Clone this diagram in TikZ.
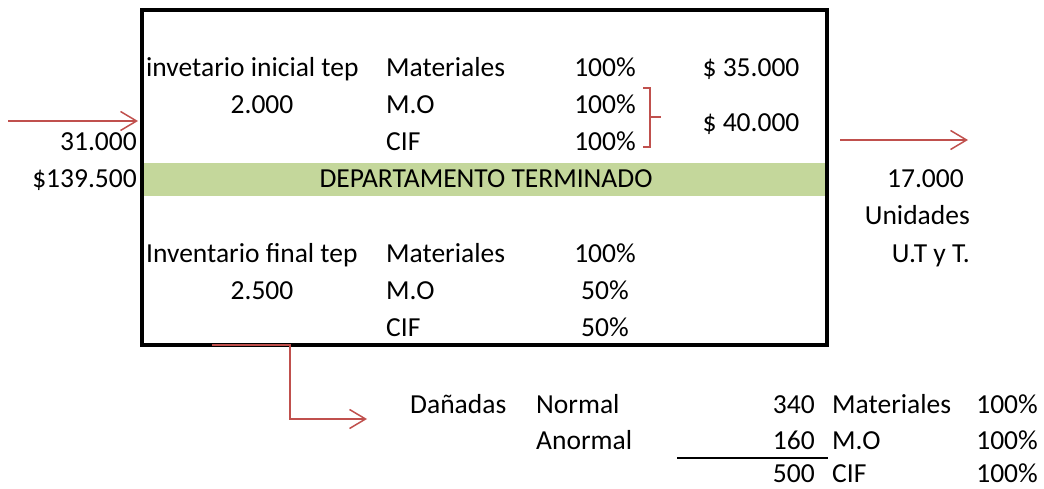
\documentclass[tikz,border=0pt]{standalone}
\usepackage{fontspec}
\setmainfont{Carlito}
\usetikzlibrary{arrows.meta}
\definecolor{verde}{RGB}{196,215,155}
\definecolor{rojo}{RGB}{192,80,77}
\tikzstyle{line} = [draw=rojo, line width=1.5pt, -{Straight Barb[length=16pt, width=19pt, line width=1.5pt]}]
\tikzstyle{txt} = [inner sep=0pt, font=\fontsize{27.5}{30}\selectfont]
\tikzstyle{lft} = [txt, anchor=base west]
\tikzstyle{rgt} = [txt, anchor=base east]
\tikzstyle{mid} = [txt, anchor=base]
\tikzstyle{banda} = [fill=verde, inner sep=0pt, minimum width=685pt, minimum height=33pt, anchor=north west]

\begin{document}
\begin{tikzpicture}[x=1pt, y=-1pt]
	\useasboundingbox (0,0) rectangle (1044,489);
	
	% departamento
	\node [banda] (band) at (142,163) {};
	\coordinate (boxNW) at (142,10);
	\coordinate (boxSE) at (827,345);
	\draw [line width=4pt] (boxNW) rectangle (boxSE);
	\node [mid] (depto) at (486,188) {DEPARTAMENTO TERMINADO};
	
	% inventario inicial
	\node [lft] (invini) at (146,77) {invetario inicial tep};
	\node [mid] (cantini) at (262,114) {2.000};
	\node [lft] (mat1) at (386,77) {Materiales};
	\node [lft] (mo1) at (386,114) {M.O};
	\node [lft] (cif1) at (386,151) {CIF};
	\node [mid] (pmat1) at (605,77) {100\%};
	\node [mid] (pmo1) at (605,114) {100\%};
	\node [mid] (pcif1) at (605,151) {100\%};
	\node [mid] (costmat) at (751,77) {\$ 35.000};
	\node [mid] (costconv) at (751,132) {\$ 40.000};
	\draw [rojo, line width=1.3pt] (643,88) -- (650,88) -- (650,147) -- (643,147);
	\draw [rojo, line width=1.3pt] (650,117) -- (661,117);
	
	% inventario final
	\node [lft] (invfin) at (146,262) {Inventario final tep};
	\node [mid] (cantfin) at (262,299) {2.500};
	\node [lft] (mat2) at (386,262) {Materiales};
	\node [lft] (mo2) at (386,299) {M.O};
	\node [lft] (cif2) at (386,336) {CIF};
	\node [mid] (pmat2) at (605,262) {100\%};
	\node [mid] (pmo2) at (605,299) {50\%};
	\node [mid] (pcif2) at (605,336) {50\%};
	
	% entrada
	\node [rgt] (unidin) at (137,151) {31.000};
	\node [rgt] (costin) at (137,188) {\$139.500};
	\coordinate (inicio) at (8,121);
	\coordinate (entrada) at (138,121);
	\path [line] (inicio) -- (entrada);
	
	% salida
	\coordinate (sale) at (840,140);
	\coordinate (llega) at (968,140);
	\path [line] (sale) -- (llega);
	\node [rgt] (unidout) at (964,188) {17.000};
	\node [rgt] (unidtxt) at (970,225) {Unidades};
	\node [rgt] (utyt) at (970,262) {U.T y T.};
	
	% danadas
	\coordinate (salida) at (212,345);
	\coordinate (codo) at (290,419);
	\coordinate (fin) at (367,419);
	\path [line] (salida) -| (codo) -- (fin);
	\node [lft] (danadas) at (410,413) {Dañadas};
	\node [lft] (normal) at (536,413) {Normal};
	\node [lft] (anormal) at (536,449) {Anormal};
	\node [rgt] (n340) at (815,413) {340};
	\node [rgt] (n160) at (815,449) {160};
	\node [rgt] (n500) at (815,482) {500};
	\coordinate (sumaA) at (677,458);
	\coordinate (sumaB) at (828,458);
	\draw [line width=1.3pt] (sumaA) -- (sumaB);
	\node [lft] (mat3) at (832,413) {Materiales};
	\node [lft] (mo3) at (832,449) {M.O};
	\node [lft] (cif3) at (832,482) {CIF};
	\node [rgt] (pmat3) at (1038,413) {100\%};
	\node [rgt] (pmo3) at (1038,449) {100\%};
	\node [rgt] (pcif3) at (1038,482) {100\%};
\end{tikzpicture}
\end{document}
